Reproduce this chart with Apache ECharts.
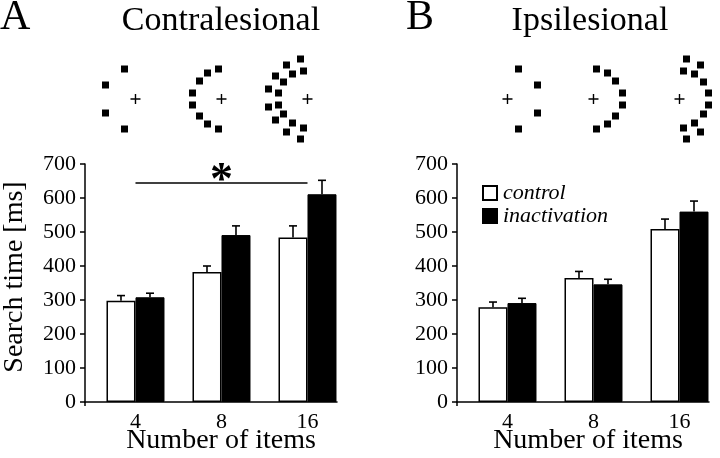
<!DOCTYPE html>
<html><head><meta charset="utf-8">
<script src="https://cdn.jsdelivr.net/npm/echarts@6/dist/echarts.min.js"></script>
<style>html,body{margin:0;padding:0;background:#fff}#c{width:720px;height:458px}</style>
</head><body><div id="c"></div>
<script>
// ---- data ----
const categories = ['4', '8', '16'];
const yTicks = [0, 100, 200, 300, 400, 500, 600, 700];
const contraControl = [298, 382, 484];
const contraControlErr = [15, 18, 34];
const contraInact = [308, 491, 611];
const contraInactErr = [12, 27, 41];
const ipsiControl = [279, 365, 509];
const ipsiControlErr = [15, 19, 29];
const ipsiInact = [291, 346, 560];
const ipsiInactErr = [14, 15, 31];
const sigFrom = 1, sigTo = 3, sigValue = 645, sigLabel = '*';
// stimulus layouts: item offsets from fixation cross (contralesional = left side)
const icon4 = [[-11, -30], [-30, -14], [-30, 14], [-11, 30]];
const icon8 = [[-3, -30], [-14, -26], [-22, -18], [-29, -6], [-29, 6], [-22, 17], [-14, 25], [-3, 30]];
const icon16 = [[-7, -40], [-21, -34], [-4, -28], [-15, -25], [-32, -23], [-24, -17], [-39, -10], [-29, -6],
                [-39, 8], [-29, 6], [-24, 15], [-32, 21], [-15, 24], [-4, 29], [-21, 33], [-7, 40]];
const icons = [icon4, icon8, icon16];

// ---- layout ----
const FONT = 'Liberation Serif';
const X_MIN = 0.413, X_MAX = 3.343;
const GRID_W = 252;
const PX = GRID_W / (X_MAX - X_MIN);
const BAR_W = 29, CAP = 8;
const panelsLeft = [85, 457];

const chart = echarts.init(document.getElementById('c'), null, {renderer: 'canvas'});

function errRender(sign) {
  return function (params, api) {
    const x = api.value(0), v = api.value(1), e = api.value(2);
    const b = api.coord([x, v]), t = api.coord([x, v + e]);
    const cx = b[0] + sign * BAR_W / 2;
    return {type: 'group', children: [
      {type: 'line', shape: {x1: cx, y1: b[1], x2: cx, y2: t[1]}, style: {stroke: '#000', lineWidth: 1.6}},
      {type: 'line', shape: {x1: cx - CAP / 2, y1: t[1], x2: cx + CAP / 2, y2: t[1]}, style: {stroke: '#000', lineWidth: 1.6}}
    ]};
  };
}

function xAxisBars(gi) {
  return {
    type: 'value', gridIndex: gi, min: X_MIN, max: X_MAX,
    axisLine: {show: true, lineStyle: {color: '#000', width: 1.5}},
    axisTick: {show: true, customValues: [X_MIN], length: 4, lineStyle: {color: '#000', width: 1.5}},
    axisLabel: {customValues: [1, 2, 3], formatter: v => categories[Math.round(v) - 1], fontSize: 22, color: '#000', fontFamily: FONT, margin: 9},
    splitLine: {show: false},
    name: 'Number of items', nameLocation: 'middle', nameGap: 25, nameMoveOverlap: false,
    nameTextStyle: {fontSize: 28, color: '#000', fontFamily: FONT, padding: [0, 0, 0, gi === 0 ? 20 : 10]}
  };
}
function yAxisBars(gi, withName) {
  return {
    type: 'value', gridIndex: gi, min: 0, max: 700, interval: 100,
    axisLine: {show: true, lineStyle: {color: '#000', width: 1.5}},
    axisTick: {show: true, length: 5, lineStyle: {color: '#000', width: 1.5}},
    axisLabel: {fontSize: 22, color: '#000', fontFamily: FONT, margin: 9,
      formatter: v => yTicks.indexOf(v) >= 0 ? String(v) : ''},
    splitLine: {show: false},
    name: withName ? 'Search time [ms]' : '', nameLocation: 'middle', nameGap: 56, nameMoveOverlap: false,
    nameTextStyle: {fontSize: 28, color: '#000', fontFamily: FONT, padding: [0, 0, 0, 12]}
  };
}
function iconXAxis(gi) { return {type: 'value', gridIndex: gi, min: X_MIN, max: X_MAX, show: false}; }
function iconYAxis(gi) { return {type: 'value', gridIndex: gi, min: -45, max: 45, inverse: true, show: false}; }

function pairs(vals, errs) { return vals.map((v, i) => errs ? [i + 1, v, errs[i]] : [i + 1, v]); }
function iconData(sign) {
  const out = [];
  icons.forEach((arr, ci) => arr.forEach(([dx, dy]) => out.push([ci + 1 + sign * dx / PX, dy])));
  return out;
}
const plusPath = 'path://M4.3,0h1.4v4.3h4.3v1.4h-4.3v4.3h-1.4v-4.3h-4.3v-1.4h4.3z';

const series = [];
function addPanel(gi, ctl, ctlErr, ina, inaErr, withSig) {
  series.push({
    type: 'bar', name: 'control', xAxisIndex: gi, yAxisIndex: gi, data: pairs(ctl),
    barWidth: BAR_W, barGap: '0%',
    itemStyle: {color: '#fff', borderColor: '#000', borderWidth: 1.5}
  }, {
    type: 'bar', name: 'inactivation', xAxisIndex: gi, yAxisIndex: gi, data: pairs(ina),
    barWidth: BAR_W, barGap: '0%',
    itemStyle: {color: '#000', borderColor: '#000', borderWidth: 1}
  },
    {type: 'custom', xAxisIndex: gi, yAxisIndex: gi, data: pairs(ctl, ctlErr), renderItem: errRender(-1), encode: {x: 0, y: 1}, z: 5},
    {type: 'custom', xAxisIndex: gi, yAxisIndex: gi, data: pairs(ina, inaErr), renderItem: errRender(1), encode: {x: 0, y: 1}, z: 5});
  if (withSig) {
    series.push({
      type: 'line', xAxisIndex: gi, yAxisIndex: gi, data: [], silent: true,
      markLine: {
        silent: true, symbol: 'none', animation: false,
        lineStyle: {color: '#000', width: 1.5, type: 'solid'},
        label: {show: true, position: 'middle', formatter: sigLabel, fontSize: 46, fontWeight: 'bold', color: '#000', fontFamily: FONT, distance: 2, offset: [0, 24]},
        data: [[{coord: [sigFrom, sigValue]}, {coord: [sigTo, sigValue]}]]
      }
    });
  }
}
addPanel(0, contraControl, contraControlErr, contraInact, contraInactErr, true);
addPanel(1, ipsiControl, ipsiControlErr, ipsiInact, ipsiInactErr, false);

// stimulus icons
[[2, 1], [3, -1]].forEach(([gi, sign]) => {
  series.push({type: 'scatter', xAxisIndex: gi, yAxisIndex: gi, symbol: 'rect', symbolSize: 7,
    itemStyle: {color: '#000', opacity: 1}, data: iconData(sign), silent: true});
  series.push({type: 'scatter', xAxisIndex: gi, yAxisIndex: gi, symbol: plusPath, symbolSize: 10,
    itemStyle: {color: '#000', opacity: 1}, data: categories.map((c, i) => [i + 1, 0]), silent: true});
});

const gridBase = {outerBoundsMode: 'none', containLabel: false};
const option = {
  animation: false,
  backgroundColor: '#fff',
  grid: [
    Object.assign({left: panelsLeft[0], top: 164, width: GRID_W, height: 238}, gridBase),
    Object.assign({left: panelsLeft[1], top: 164, width: GRID_W, height: 238}, gridBase),
    Object.assign({left: panelsLeft[0], top: 54, width: GRID_W, height: 90}, gridBase),
    Object.assign({left: panelsLeft[1], top: 54, width: GRID_W, height: 90}, gridBase)
  ],
  xAxis: [xAxisBars(0), xAxisBars(1), iconXAxis(2), iconXAxis(3)],
  yAxis: [yAxisBars(0, true), yAxisBars(1, false), iconYAxis(2), iconYAxis(3)],
  legend: {
    data: ['control', 'inactivation'], orient: 'vertical', left: 477, top: 177,
    icon: 'rect', itemWidth: 14, itemHeight: 14, itemGap: 1,
    textStyle: {fontSize: 22, fontStyle: 'italic', color: '#000', fontFamily: FONT, lineHeight: 20, padding: [0, 0, 0, 1]}
  },
  graphic: [
    {type: 'text', x: 0, y: 18, style: {text: 'A', font: '42px "Liberation Serif"', fill: '#000', textAlign: 'left', textVerticalAlign: 'middle'}},
    {type: 'text', x: 221, y: 21, style: {text: 'Contralesional', font: '34px "Liberation Serif"', fill: '#000', textAlign: 'center', textVerticalAlign: 'middle'}},
    {type: 'text', x: 406, y: 18, style: {text: 'B', font: '42px "Liberation Serif"', fill: '#000', textAlign: 'left', textVerticalAlign: 'middle'}},
    {type: 'text', x: 590, y: 21, style: {text: 'Ipsilesional', font: '34px "Liberation Serif"', fill: '#000', textAlign: 'center', textVerticalAlign: 'middle'}}
  ],
  series: series
};
chart.setOption(option);
</script></body></html>
